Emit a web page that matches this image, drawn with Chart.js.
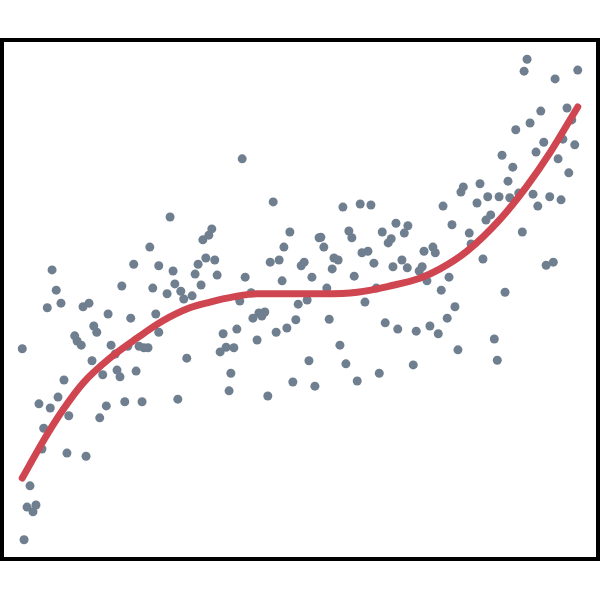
<!DOCTYPE html>
<html>
<head>
<meta charset="utf-8">
<script src="https://cdn.jsdelivr.net/npm/chart.js@4"></script>
<style>
  html, body { margin: 0; padding: 0; background: #fff; }
  #wrap { width: 600px; height: 600px; }
</style>
</head>
<body>
<div id="wrap"><canvas id="fitChart" width="600" height="600"></canvas></div>
<script>
// scatter samples (x, y), both axes 0..100
const sampleX = [
  3.4, 3.7, 4.7, 4.2, 5.2, 5.7, 6.7, 7.0, 6.2, 8.1, 9.4, 10.4, 11.2, 10.9, 14.1, 16.4, 17.5, 15.1, 16.9, 19.3,
  19.8, 22.5, 20.6, 23.5, 29.5, 31.0, 12.2, 12.6, 13.3, 15.4, 15.9, 18.3, 19.0, 21.1, 23.0, 23.8, 24.5, 26.3, 7.6, 9.9,
  13.6, 14.6, 17.8, 21.6, 25.8, 8.4, 9.1, 20.1, 25.3, 27.7, 29.0, 30.0, 30.5, 31.9, 33.4, 22.1, 26.3, 28.7, 24.8, 28.2,
  32.9, 32.4, 34.2, 35.7, 36.1, 33.7, 34.7, 35.2, 40.3, 45.5, 48.3, 47.3, 45.0, 46.5, 40.8, 47.0, 41.8, 39.9, 42.1, 43.1,
  43.6, 44.1, 39.4, 37.1, 36.6, 37.6, 38.9, 38.4, 38.1, 42.8, 46.0, 47.8, 49.3, 44.6, 48.8, 49.7, 51.2, 50.2, 50.7, 52.0,
  53.2, 53.5, 54.0, 54.5, 54.9, 51.5, 52.5, 55.4, 55.7, 56.4, 57.2, 58.2, 58.7, 59.1, 56.7, 57.7, 59.6, 60.1, 60.4, 61.4,
  61.9, 62.4, 60.9, 62.8, 63.3, 63.8, 64.3, 64.8, 65.3, 65.6, 66.1, 66.4, 67.1, 67.5, 68.1, 68.0, 69.0, 69.5, 70.0, 70.5,
  70.8, 71.3, 71.8, 72.3, 72.7, 73.2, 73.7, 74.0, 74.7, 75.0, 75.5, 76.0, 76.5, 77.0, 77.4, 78.4, 78.7, 79.7, 80.2, 80.7,
  81.2, 82.0, 81.5, 82.6, 83.1, 83.4, 83.9, 84.4, 84.9, 85.2, 85.7, 86.2, 86.7, 87.3, 87.6, 88.1, 88.6, 89.1, 89.6, 89.9,
  90.4, 90.9, 91.3, 91.9, 92.5, 92.8, 93.3, 93.8, 94.1, 94.8, 95.1, 95.6, 96.1, 96.6
];
const sampleY = [
  40.5, 3.7, 14.1, 10.0, 9.1, 10.4, 21.2, 25.2, 29.9, 29.1, 31.2, 34.5, 27.6, 20.4, 19.8, 27.2, 29.5, 38.2, 35.5, 36.4,
  35.1, 36.2, 30.3, 30.3, 30.8, 38.7, 43.0, 42.0, 41.2, 44.9, 43.7, 41.2, 39.5, 41.0, 41.0, 40.7, 40.7, 43.7, 48.4, 49.3,
  48.6, 49.3, 47.2, 46.4, 47.2, 55.7, 51.8, 52.6, 52.2, 51.1, 53.0, 51.6, 50.1, 50.7, 52.8, 56.8, 56.5, 55.5, 60.1, 65.9,
  56.8, 54.9, 58.0, 57.6, 54.7, 61.5, 62.4, 63.6, 77.1, 68.8, 63.0, 60.1, 57.2, 57.6, 54.3, 53.6, 51.3, 49.7, 46.4, 47.4,
  46.8, 47.6, 44.3, 43.4, 39.9, 40.8, 40.7, 35.8, 32.4, 42.2, 43.7, 44.5, 46.1, 31.4, 34.1, 49.1, 49.9, 56.5, 57.2, 54.3,
  61.9, 62.0, 60.1, 52.2, 46.2, 38.2, 33.3, 55.9, 58.0, 57.6, 67.8, 63.2, 61.9, 54.5, 41.2, 37.6, 34.3, 68.4, 59.0, 59.3,
  68.2, 57.0, 49.5, 52.2, 35.8, 63.0, 45.5, 60.9, 61.7, 56.3, 64.7, 44.3, 57.6, 62.8, 64.2, 56.1, 37.4, 43.9, 55.5, 56.3,
  59.3, 53.6, 44.9, 60.1, 59.0, 43.4, 51.8, 68.0, 46.4, 54.3, 64.4, 48.6, 40.3, 70.7, 71.7, 62.8, 60.7, 68.6, 72.3, 57.8,
  65.3, 66.3, 69.8, 42.4, 38.3, 69.8, 77.8, 51.4, 72.8, 69.6, 75.5, 82.7, 70.5, 63.0, 94.0, 96.3, 84.0, 70.3, 78.4, 68.0,
  86.3, 80.3, 56.6, 69.8, 57.2, 92.5, 77.1, 69.2, 80.9, 86.9, 74.4, 84.6, 79.8, 94.2
];

// fitted curve
const fitX = [3.4, 6.9, 10.2, 13.6, 18.1, 22.7, 27.0, 31.5, 34.9, 38.8, 42.8, 48.3, 53.9, 59.6, 65.1, 70.1, 73.5, 78.0, 83.6, 88.1, 91.9, 96.6];
const fitY = [15.6, 22.7, 28.7, 33.9, 38.7, 42.6, 45.9, 48.4, 49.5, 50.5, 51.1, 51.1, 51.1, 51.4, 52.6, 54.1, 55.9, 59.3, 65.5, 71.9, 78.2, 87.1];

const pointColor = "#6f7f8f";
const lineColor = "#cf4550";

// black frame round the plot area
const frame = {
  id: "frame",
  afterDraw(chart) {
    const { ctx, chartArea } = chart;
    ctx.save();
    ctx.strokeStyle = "#000";
    ctx.lineWidth = 4;
    ctx.strokeRect(
      chartArea.left,
      chartArea.top,
      chartArea.right - chartArea.left,
      chartArea.bottom - chartArea.top
    );
    ctx.restore();
  },
};

const ctx = document.getElementById("fitChart");

new Chart(ctx, {
  type: "scatter",
  data: {
    datasets: [
      {
        type: "line",
        label: "fit",
        data: fitX.map((x, i) => ({ x: x, y: fitY[i] })),
        borderColor: lineColor,
        borderWidth: 7,
        borderCapStyle: "round",
        borderJoinStyle: "round",
        cubicInterpolationMode: "monotone",
        pointRadius: 0,
        fill: false,
        order: 0,
      },
      {
        label: "samples",
        data: sampleX.map((x, i) => ({ x: x, y: sampleY[i] })),
        backgroundColor: pointColor,
        borderWidth: 0,
        pointRadius: 4.5,
        order: 1,
      },
    ],
  },
  options: {
    responsive: false,
    animation: false,
    layout: {
      autoPadding: false,
      padding: { left: 2, right: 2, top: 40, bottom: 41 },
    },
    plugins: {
      legend: { display: false },
      tooltip: { enabled: false },
    },
    scales: {
      x: { type: "linear", min: 0, max: 100, display: false },
      y: { type: "linear", min: 0, max: 100, display: false },
    },
  },
  plugins: [frame],
});
</script>
</body>
</html>
